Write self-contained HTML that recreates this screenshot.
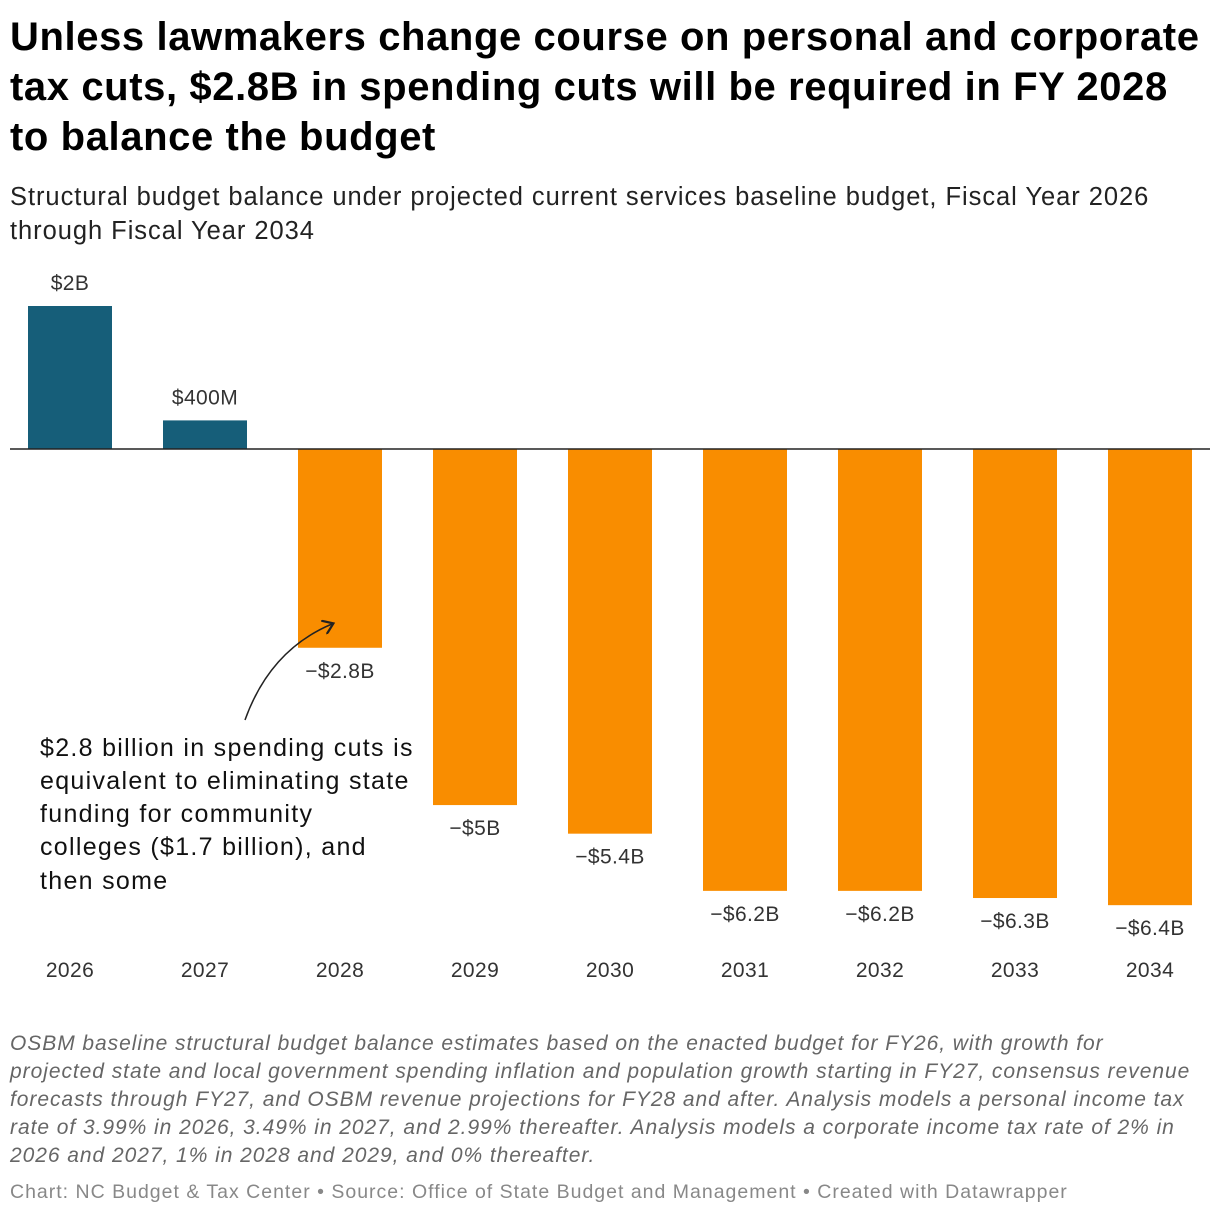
<!DOCTYPE html>
<html><head><meta charset="utf-8">
<style>
body{margin:0;background:#fff;width:1220px;height:1216px;overflow:hidden;font-family:"Liberation Sans",Arial,sans-serif;position:relative}
.t{position:absolute;left:10px;top:12px;white-space:nowrap;font-weight:bold;font-size:40px;line-height:50px;color:#000;letter-spacing:0.6px}
.s{position:absolute;left:10px;top:180px;white-space:nowrap;font-size:25.5px;line-height:34px;color:#222;letter-spacing:0.95px}
.n{position:absolute;left:10px;top:1030px;white-space:nowrap;font-style:italic;font-size:21px;line-height:28px;color:#666;letter-spacing:0.95px}
.c{position:absolute;left:10px;top:1181px;font-size:19.5px;color:#888;letter-spacing:1px}
svg{position:absolute;left:0;top:0}
</style></head><body>
<div class="t">Unless lawmakers change course on personal and corporate<br>tax cuts, $2.8B in spending cuts will be required in FY 2028<br>to balance the budget</div>
<div class="s">Structural budget balance under projected current services baseline budget, Fiscal Year 2026<br>through Fiscal Year 2034</div>
<svg id="chart" width="1220" height="1216">
<defs><marker id="ah" markerWidth="10" markerHeight="10" refX="6" refY="5" orient="auto"><path d="M0,0 L7,5 L0,10" fill="none" stroke="#222" stroke-width="1.5"/></marker></defs>
<g id="bars"></g>
<line x1="10" x2="1210" y1="449" y2="449" stroke="#222" stroke-width="1.5"/>
<path d="M245,720 Q270,650 332,624" fill="none" stroke="#222" stroke-width="1.5" marker-end="url(#ah)"/>
<text font-size="25" fill="#111" letter-spacing="1.3">
<tspan x="40" y="756">$2.8 billion in spending cuts is</tspan>
<tspan x="40" y="789">equivalent to eliminating state</tspan>
<tspan x="40" y="822">funding for community</tspan>
<tspan x="40" y="855">colleges ($1.7 billion), and</tspan>
<tspan x="40" y="889">then some</tspan></text>
</svg>
<div class="n">OSBM baseline structural budget balance estimates based on the enacted budget for FY26, with growth for<br>projected state and local government spending inflation and population growth starting in FY27, consensus revenue<br>forecasts through FY27, and OSBM revenue projections for FY28 and after. Analysis models a personal income tax<br>rate of 3.99% in 2026, 3.49% in 2027, and 2.99% thereafter. Analysis models a corporate income tax rate of 2% in<br>2026 and 2027, 1% in 2028 and 2029, and 0% thereafter.</div>
<div class="c">Chart: NC Budget &amp; Tax Center • Source: Office of State Budget and Management • Created with Datawrapper</div>
<script>
const years=["2026","2027","2028","2029","2030","2031","2032","2033","2034"];
const values=[2.0,0.4,-2.78,-4.98,-5.38,-6.18,-6.18,-6.28,-6.38];
const labels=["$2B","$400M","\u2212$2.8B","\u2212$5B","\u2212$5.4B","\u2212$6.2B","\u2212$6.2B","\u2212$6.3B","\u2212$6.4B"];
const ns="http://www.w3.org/2000/svg";
const y0=449,pxPer=71.5;
function yScale(v){return y0-v*pxPer;}
function xCenter(i){return 70+i*135;}
const g=document.getElementById('bars');
years.forEach((yr,i)=>{
  const v=values[i],cx=xCenter(i),w=84;
  const r=document.createElementNS(ns,'rect');
  
  
  const yt=Math.min(yScale(v),y0),h=Math.abs(yScale(v)-y0);
  r.setAttribute('x',cx-w/2);r.setAttribute('y',yt);r.setAttribute('width',w);r.setAttribute('height',h);
  r.setAttribute('fill',v>=0?'#165e79':'#f98d00');
  g.appendChild(r);
  const t=document.createElementNS(ns,'text');
  
  
  t.setAttribute('x',cx);t.setAttribute('text-anchor','middle');t.setAttribute('font-size','21');t.setAttribute('fill','#333');t.setAttribute('letter-spacing','0.4');
  t.setAttribute('y',v>=0?yScale(v)-16:yScale(v)+30);
  t.textContent=labels[i];g.appendChild(t);
  const a=document.createElementNS(ns,'text');
  
  
  a.setAttribute('x',cx);a.setAttribute('y',977);a.setAttribute('text-anchor','middle');a.setAttribute('font-size','21');a.setAttribute('fill','#333');a.setAttribute('letter-spacing','0.4');
  a.textContent=yr;g.appendChild(a);
});
</script>
</body></html>
